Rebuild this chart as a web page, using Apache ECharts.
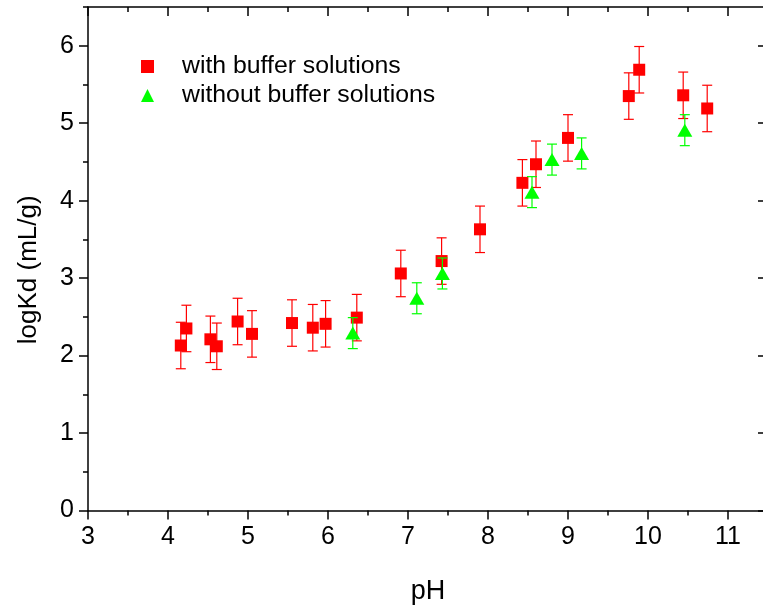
<!DOCTYPE html>
<html><head><meta charset="utf-8">
<script src="https://cdn.jsdelivr.net/npm/echarts@6/dist/echarts.min.js"></script>
<style>html,body{margin:0;padding:0;background:#fff;overflow:hidden}#c{width:768px;height:613px}</style>
</head><body><div id="c"></div>
<script>
// with buffer solutions (red squares)
const withX   = [4.16, 4.23, 4.53, 4.61, 4.87, 5.05, 5.55, 5.81, 5.97, 6.36, 6.91, 7.42, 7.90, 8.43, 8.60, 9.00, 9.76, 9.89, 10.44, 10.74];
const withY   = [2.13, 2.35, 2.21, 2.12, 2.44, 2.28, 2.42, 2.36, 2.41, 2.49, 3.06, 3.22, 3.63, 4.23, 4.47, 4.81, 5.35, 5.69, 5.36, 5.19];
const withErr = [0.3, 0.3, 0.3, 0.3, 0.3, 0.3, 0.3, 0.3, 0.3, 0.3, 0.3, 0.3, 0.3, 0.3, 0.3, 0.3, 0.3, 0.3, 0.3, 0.3];
// without buffer solutions (green triangles)
const withoutX   = [6.31, 7.11, 7.43, 8.55, 8.80, 9.17, 10.46];
const withoutY   = [2.29, 2.74, 3.06, 4.11, 4.53, 4.61, 4.91];
const withoutErr = [0.2, 0.2, 0.2, 0.2, 0.2, 0.2, 0.2];
// axis ticks
const xMajor = [3, 4, 5, 6, 7, 8, 9, 10, 11];
const xMinor = [3.5, 4.5, 5.5, 6.5, 7.5, 8.5, 9.5, 10.5, 11.5];
const yMajor = [0, 1, 2, 3, 4, 5, 6];
const yMinor = [0.5, 1.5, 2.5, 3.5, 4.5, 5.5, 6.5];
const seriesNames = ['with buffer solutions', 'without buffer solutions'];

const FONT = '"Liberation Sans", Arial, sans-serif';
const AX = {color: '#000', width: 1.5};

function errSeries(name, xs, ys, es, color, z) {
  return {
    type: 'custom', name: name, xAxisIndex: 0, yAxisIndex: 0, z: z, silent: true,
    data: xs.map((x, i) => [x, ys[i], es[i]]),
    encode: {x: 0, y: 1},
    renderItem: function (params, api) {
      const x = api.value(0), y = api.value(1), e = api.value(2);
      const t = api.coord([x, y + e]), b = api.coord([x, y - e]);
      const hw = 5;
      const st = {stroke: color, lineWidth: 1.2, fill: null};
      return {type: 'group', children: [
        {type: 'line', shape: {x1: t[0], y1: t[1], x2: b[0], y2: b[1]}, style: st},
        {type: 'line', shape: {x1: t[0] - hw, y1: t[1], x2: t[0] + hw, y2: t[1]}, style: st},
        {type: 'line', shape: {x1: b[0] - hw, y1: b[1], x2: b[0] + hw, y2: b[1]}, style: st}
      ]};
    }
  };
}

function xAx(pos, ticks, len, inside, showLine, extra) {
  return Object.assign({
    type: 'value', position: pos, min: 3, max: 11.5,
    axisLine: {show: showLine, onZero: false, lineStyle: AX},
    axisTick: {show: true, customValues: ticks, length: len, inside: inside, lineStyle: AX},
    axisLabel: {show: false}, splitLine: {show: false}, minorTick: {show: false}
  }, extra || {});
}
function yAx(pos, ticks, len, inside, showLine, extra) {
  return Object.assign({
    type: 'value', position: pos, min: 0, max: 6.5,
    axisLine: {show: showLine, onZero: false, lineStyle: AX},
    axisTick: {show: true, customValues: ticks, length: len, inside: inside, lineStyle: AX},
    axisLabel: {show: false}, splitLine: {show: false}, minorTick: {show: false}
  }, extra || {});
}

const chart = echarts.init(document.getElementById('c'), null, {renderer: 'canvas'});
chart.setOption({
  animation: false,
  backgroundColor: '#fff',
  grid: {left: 88, top: 7, right: 0, bottom: 102.5, containLabel: false},
  xAxis: [
    xAx('bottom', xMajor, 9, false, true, {
      axisLabel: {show: true, customValues: xMajor, fontSize: 25, color: '#000', fontFamily: FONT, margin: 14},
      name: 'pH', nameLocation: 'middle', nameGap: 68,
      nameTextStyle: {fontSize: 27, color: '#000', fontFamily: FONT}
    }),
    xAx('bottom', xMinor, 5, false, false),
    xAx('top', xMajor, 9, true, true),
    xAx('top', xMinor, 5, true, false)
  ],
  yAxis: [
    yAx('left', yMajor, 9, false, true, {
      axisLabel: {show: true, customValues: yMajor, fontSize: 25, color: '#000', fontFamily: FONT, margin: 14},
      name: 'logKd (mL/g)', nameLocation: 'middle', nameGap: 46, nameRotate: 90,
      nameTextStyle: {fontSize: 26, color: '#000', fontFamily: FONT, padding: [0, 22, 0, 0]}
    }),
    yAx('left', yMinor, 5, false, false),
    yAx('right', yMajor, 10, true, true),
    yAx('right', yMinor, 5, true, false)
  ],
  legend: {
    data: [{name: seriesNames[0], icon: 'rect'}, {name: seriesNames[1], icon: 'triangle'}],
    orient: 'vertical', left: 141, top: 54, padding: 0,
    itemWidth: 13, itemHeight: 13, itemGap: 4,
    textStyle: {fontSize: 24.8, color: '#000', fontFamily: FONT, padding: [0, 0, 0, 23], lineHeight: 25},
    selectedMode: false
  },
  series: [
    errSeries('err1', withX, withY, withErr, '#ff0000', 2),
    {type: 'scatter', name: seriesNames[0], z: 3, symbol: 'rect', symbolSize: 12,
     itemStyle: {color: '#ff0000', opacity: 1}, data: withX.map((x, i) => [x, withY[i]])},
    errSeries('err2', withoutX, withoutY, withoutErr, '#00ff00', 4),
    {type: 'scatter', name: seriesNames[1], z: 5, symbol: 'triangle', symbolSize: [15, 13],
     itemStyle: {color: '#00ff00', opacity: 1}, data: withoutX.map((x, i) => [x, withoutY[i]])}
  ]
});
</script></body></html>
